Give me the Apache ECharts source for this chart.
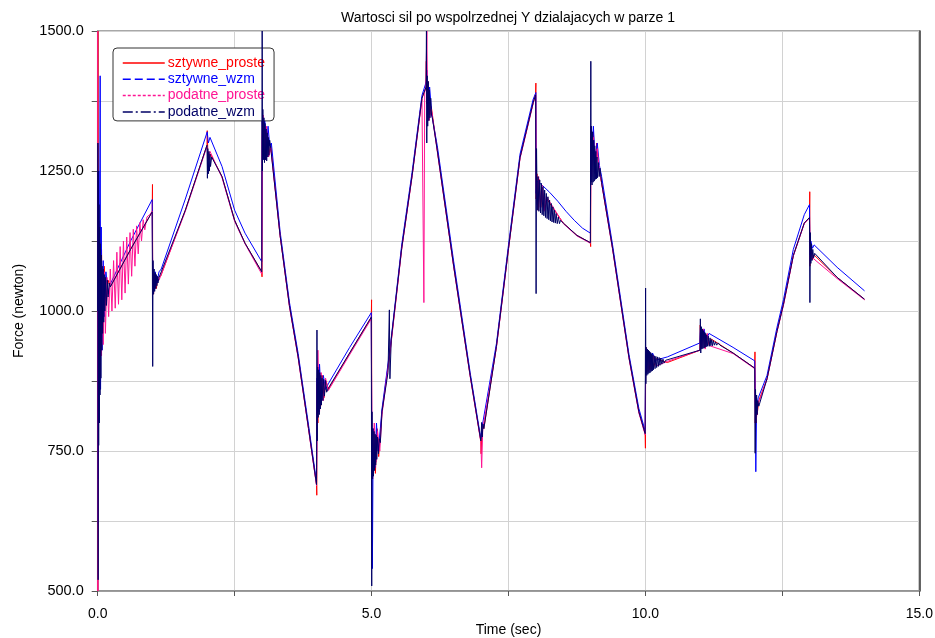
<!DOCTYPE html>
<html>
<head>
<meta charset="utf-8">
<script src="https://cdn.jsdelivr.net/npm/echarts@6/dist/echarts.min.js"></script>
<style>
  html, body { margin: 0; padding: 0; background: #fff; }
  #chart { width: 935px; height: 638px; }
</style>
</head>
<body>
<div id="chart"></div>
<script>
// [time (sec), force (newton)]
const sztywneProste = [
  [0.000, 500], [0.003, 1500], [0.008, 820], [0.015, 1230], [0.025, 880], [0.035, 1160], [0.05, 940], [0.07, 1110], [0.09, 980], [0.12, 1080], [0.15, 1010], [0.19, 1055], [0.23, 1043],
  [0.60, 1110], [0.995, 1177], [1.000, 1226], [1.004, 1055], [1.02, 1030], [1.04, 1065], [1.07, 1040], [1.10, 1060], [1.15, 1062],
  [1.60, 1180], [1.995, 1296], [2.000, 1322], [2.01, 1285], [2.03, 1270], [2.06, 1280],
  [2.27, 1240], [2.50, 1162], [2.69, 1121], [2.995, 1070], [3.000, 1061], [3.004, 1360], [3.02, 1280], [3.04, 1340], [3.07, 1270], [3.10, 1320], [3.13, 1280], [3.16, 1295],
  [3.33, 1135], [3.50, 1010], [3.66, 918], [3.85, 790], [3.995, 690], [4.000, 671], [4.004, 870], [4.02, 800], [4.04, 900], [4.07, 830], [4.10, 885], [4.13, 845], [4.17, 875], [4.21, 860],
  [4.60, 925], [4.995, 989], [5.000, 1020], [5.004, 760], [5.02, 700], [5.04, 785], [5.07, 710], [5.10, 790], [5.13, 740], [5.16, 780], [5.19, 820],
  [5.34, 930], [5.55, 1112], [5.74, 1242], [5.92, 1380], [5.995, 1400], [6.000, 1446], [6.01, 1370], [6.03, 1410], [6.06, 1350], [6.09, 1365],
  [6.20, 1287], [6.50, 1080], [6.80, 885], [6.995, 768], [7.000, 745], [7.02, 795], [7.05, 790],
  [7.28, 937], [7.50, 1112], [7.71, 1274], [7.95, 1372], [7.995, 1388], [8.000, 1407], [8.004, 1200], [8.02, 1245], [8.04, 1180], [8.06, 1235], [8.09, 1185], [8.12, 1220], [8.16, 1180], [8.20, 1200],
  [8.50, 1157], [8.75, 1135], [8.995, 1122], [9.000, 1115], [9.004, 1330], [9.02, 1260], [9.05, 1320], [9.08, 1250], [9.11, 1300], [9.15, 1255], [9.20, 1229],
  [9.40, 1112], [9.52, 1034], [9.70, 917], [9.88, 820], [9.995, 781], [10.000, 755], [10.004, 930], [10.02, 890], [10.05, 925], [10.08, 895], [10.11, 922], [10.15, 900], [10.20, 915], [10.40, 908],
  [10.995, 930], [11.000, 975], [11.02, 935], [11.05, 965], [11.08, 935], [11.12, 958], [11.16, 940], [11.20, 950],
  [11.60, 925], [11.995, 898], [12.000, 927], [12.004, 800], [12.02, 840], [12.04, 815], [12.07, 840],
  [12.22, 879], [12.40, 963], [12.52, 1012], [12.70, 1099], [12.90, 1157], [12.995, 1167], [13.000, 1213], [13.004, 1080], [13.02, 1110], [13.05, 1092], [13.08, 1100],
  [13.50, 1060], [14.00, 1021]
];

const sztywneWzm = [
  [0.000, 620], [0.006, 1180], [0.012, 700], [0.020, 1250], [0.030, 800], [0.045, 1420], [0.052, 860], [0.065, 1150], [0.08, 930], [0.10, 1090], [0.12, 990], [0.15, 1070], [0.19, 1030], [0.23, 1048],
  [0.60, 1125], [0.995, 1199], [1.004, 1070], [1.02, 1035], [1.05, 1070], [1.08, 1050], [1.12, 1070], [1.16, 1075],
  [1.60, 1200], [2.000, 1320], [2.02, 1300], [2.05, 1310],
  [2.27, 1258], [2.50, 1180], [2.69, 1139], [2.995, 1088], [3.004, 1340], [3.02, 1300], [3.05, 1345], [3.08, 1285], [3.11, 1330], [3.14, 1295], [3.17, 1300],
  [3.33, 1142], [3.50, 1016], [3.66, 924], [3.85, 796], [3.995, 695], [4.004, 880], [4.02, 820], [4.05, 905], [4.08, 845], [4.12, 885], [4.16, 860], [4.21, 870],
  [4.60, 935], [4.995, 997], [5.004, 780], [5.015, 540], [5.03, 790], [5.06, 720], [5.09, 800], [5.12, 750], [5.16, 790], [5.19, 825],
  [5.34, 935], [5.55, 1118], [5.74, 1248], [5.92, 1385], [6.000, 1410], [6.01, 1430], [6.03, 1380], [6.06, 1400], [6.10, 1350],
  [6.20, 1295], [6.50, 1088], [6.80, 890], [6.995, 772], [7.03, 800],
  [7.28, 942], [7.50, 1118], [7.71, 1280], [7.95, 1378], [8.000, 1390], [8.005, 1210], [8.02, 1232], [8.10, 1226], [8.25, 1212], [8.40, 1196],
  [8.55, 1178], [8.70, 1162], [8.85, 1148], [8.995, 1139], [9.004, 1310], [9.02, 1280], [9.05, 1330], [9.08, 1270], [9.12, 1300], [9.16, 1260], [9.20, 1240],
  [9.40, 1118], [9.52, 1040], [9.70, 922], [9.88, 826], [9.995, 786], [10.004, 920], [10.02, 900], [10.05, 930], [10.09, 905], [10.13, 925], [10.18, 912], [10.40, 918],
  [10.995, 943], [11.004, 970], [11.03, 945], [11.07, 968], [11.11, 948], [11.16, 960],
  [11.60, 935], [11.995, 911], [12.004, 860], [12.015, 713], [12.03, 830], [12.06, 845],
  [12.22, 885], [12.40, 970], [12.52, 1020], [12.70, 1110], [12.90, 1172], [12.995, 1190], [13.004, 1100], [13.02, 1125], [13.05, 1112], [13.08, 1118],
  [13.50, 1078], [14.00, 1036]
];

const podatneProste = [
  [0.000, 1500], [0.004, 500], [0.010, 1200], [0.018, 800], [0.028, 1150], [0.040, 880], [0.055, 1100], [0.070, 920], [0.085, 1080], [0.100, 940], [0.120, 1070], [0.14, 960],
  [0.17, 1060], [0.20, 990], [0.23, 1075], [0.26, 1000], [0.29, 1090], [0.32, 1005], [0.35, 1105], [0.38, 1012], [0.41, 1115], [0.44, 1020], [0.47, 1125], [0.50, 1032],
  [0.53, 1132], [0.56, 1048], [0.59, 1140], [0.62, 1062], [0.65, 1146], [0.68, 1080], [0.71, 1152], [0.74, 1102], [0.77, 1158], [0.80, 1125], [0.83, 1163], [0.86, 1145],
  [0.90, 1168], [0.95, 1172], [0.995, 1178],
  [1.004, 1050], [1.02, 1065], [1.05, 1040], [1.08, 1060], [1.12, 1055],
  [1.60, 1178], [1.995, 1294], [2.02, 1270], [2.05, 1285],
  [2.27, 1238], [2.50, 1160], [2.69, 1120], [2.995, 1066], [3.004, 1310], [3.02, 1350], [3.05, 1280], [3.08, 1330], [3.12, 1275], [3.16, 1290],
  [3.33, 1134], [3.50, 1008], [3.66, 916], [3.85, 788], [3.995, 688], [4.004, 860], [4.02, 930], [4.05, 820], [4.08, 890], [4.12, 840], [4.16, 880], [4.21, 858],
  [4.60, 922], [4.995, 986], [5.004, 770], [5.02, 740], [5.05, 800], [5.08, 730], [5.11, 785], [5.15, 750], [5.19, 815],
  [5.34, 928], [5.55, 1110], [5.74, 1240], [5.92, 1378], [5.955, 1015], [5.97, 1390], [5.99, 1400], [6.01, 1500], [6.02, 1395], [6.05, 1340], [6.09, 1360],
  [6.20, 1285], [6.50, 1078], [6.80, 883], [6.995, 766], [7.01, 720], [7.03, 790],
  [7.28, 935], [7.50, 1110], [7.71, 1272], [7.95, 1370], [7.995, 1386], [8.005, 1220], [8.02, 1190], [8.05, 1240], [8.08, 1185], [8.11, 1225], [8.15, 1178], [8.19, 1205],
  [8.50, 1156], [8.75, 1134], [8.995, 1121], [9.004, 1300], [9.02, 1240], [9.05, 1310], [9.08, 1245], [9.12, 1290], [9.16, 1250], [9.20, 1228],
  [9.40, 1110], [9.52, 1032], [9.70, 915], [9.88, 818], [9.995, 779], [10.004, 905], [10.02, 935], [10.05, 892], [10.08, 926], [10.11, 896], [10.15, 920], [10.20, 902], [10.40, 910],
  [10.995, 930], [11.004, 955], [11.03, 935], [11.06, 968], [11.09, 932], [11.13, 960], [11.17, 938],
  [11.60, 924], [11.995, 897], [12.004, 840], [12.02, 800], [12.05, 835], [12.08, 840],
  [12.22, 878], [12.40, 962], [12.52, 1010], [12.70, 1098], [12.90, 1156], [12.995, 1166], [13.004, 1090], [13.02, 1105], [13.05, 1095],
  [13.50, 1058], [14.00, 1020]
];

const podatneWzm = [
  [0.000, 1000], [0.004, 1300], [0.008, 520], [0.012, 1250], [0.018, 760], [0.024, 1190], [0.030, 800], [0.036, 1150], [0.042, 850], [0.050, 1120], [0.058, 880], [0.066, 1100],
  [0.074, 930], [0.082, 1080], [0.090, 960], [0.100, 1075], [0.110, 980], [0.120, 1065], [0.130, 1000], [0.145, 1060], [0.160, 1010], [0.175, 1055], [0.19, 1025], [0.21, 1050], [0.23, 1043],
  [0.60, 1110], [0.995, 1177], [1.004, 901], [1.010, 1090], [1.02, 1030], [1.03, 1075], [1.04, 1035], [1.05, 1068], [1.06, 1040], [1.07, 1065], [1.08, 1045], [1.09, 1062], [1.10, 1050], [1.12, 1060], [1.15, 1062],
  [1.60, 1180], [1.995, 1296], [2.003, 1237], [2.01, 1290], [2.02, 1245], [2.03, 1285], [2.04, 1250], [2.05, 1280], [2.06, 1258], [2.08, 1275],
  [2.27, 1240], [2.50, 1162], [2.69, 1121], [2.995, 1070], [3.003, 1500], [3.008, 1250], [3.015, 1360], [3.025, 1270], [3.035, 1345], [3.045, 1265], [3.055, 1335], [3.065, 1270],
  [3.075, 1325], [3.085, 1268], [3.095, 1318], [3.105, 1275], [3.115, 1310], [3.125, 1278], [3.14, 1305], [3.16, 1290],
  [3.33, 1135], [3.50, 1010], [3.66, 918], [3.85, 790], [3.995, 690], [4.003, 966], [4.008, 768], [4.015, 900], [4.025, 810], [4.035, 895], [4.045, 815], [4.055, 890], [4.065, 825],
  [4.075, 885], [4.085, 832], [4.095, 880], [4.11, 840], [4.125, 878], [4.14, 848], [4.16, 876], [4.18, 855], [4.21, 862],
  [4.60, 925], [4.995, 989], [5.003, 509], [5.008, 820], [5.015, 700], [5.025, 790], [5.035, 705], [5.045, 785], [5.055, 715], [5.065, 780], [5.075, 725], [5.085, 778], [5.095, 735],
  [5.11, 775], [5.125, 745], [5.14, 772], [5.16, 765], [5.19, 820], [5.30, 890], [5.325, 1002], [5.335, 879], [5.36, 950],
  [5.55, 1112], [5.74, 1242], [5.92, 1380], [5.995, 1400], [6.002, 1500], [6.008, 1300], [6.015, 1420], [6.025, 1330], [6.035, 1410], [6.045, 1340], [6.055, 1395], [6.065, 1345],
  [6.08, 1380], [6.095, 1350], [6.11, 1345],
  [6.20, 1287], [6.50, 1080], [6.80, 885], [6.995, 768], [7.01, 801], [7.02, 775], [7.035, 798], [7.05, 790],
  [7.28, 937], [7.50, 1112], [7.71, 1274], [7.95, 1372], [7.995, 1386], [8.004, 1031], [8.012, 1290], [8.025, 1180],
  [8.04, 1240], [8.055, 1178], [8.07, 1234], [8.085, 1175], [8.10, 1228], [8.115, 1172], [8.13, 1222], [8.145, 1170], [8.16, 1216], [8.175, 1167], [8.19, 1210], [8.205, 1165],
  [8.22, 1204], [8.235, 1163], [8.25, 1198], [8.265, 1161], [8.28, 1192], [8.295, 1159], [8.31, 1186], [8.325, 1158], [8.34, 1180], [8.355, 1157], [8.37, 1174], [8.39, 1156],
  [8.41, 1168], [8.43, 1156], [8.45, 1162], [8.50, 1157], [8.75, 1135], [8.995, 1122],
  [9.003, 1446], [9.008, 1230], [9.015, 1330], [9.025, 1225], [9.035, 1320], [9.045, 1230], [9.055, 1305], [9.065, 1232], [9.075, 1295], [9.085, 1235], [9.095, 1285], [9.105, 1236],
  [9.115, 1275], [9.125, 1238], [9.14, 1265], [9.155, 1240], [9.17, 1255], [9.20, 1229],
  [9.40, 1112], [9.52, 1034], [9.70, 917], [9.88, 820], [9.995, 781], [10.003, 1041], [10.008, 870], [10.015, 935], [10.025, 885], [10.035, 932], [10.045, 887],
  [10.055, 930], [10.065, 889], [10.075, 928], [10.085, 890], [10.095, 926], [10.105, 892], [10.115, 924], [10.125, 893], [10.135, 922], [10.145, 895], [10.16, 920], [10.175, 897],
  [10.19, 919], [10.205, 899], [10.22, 918], [10.235, 901], [10.25, 917], [10.265, 903], [10.28, 916], [10.30, 905], [10.32, 914], [10.34, 907], [10.37, 912],
  [10.40, 912], [10.995, 930], [11.003, 986], [11.01, 925],
  [11.02, 972], [11.03, 932], [11.04, 968], [11.05, 933], [11.06, 965], [11.07, 934], [11.08, 962], [11.09, 935], [11.10, 960], [11.11, 936], [11.12, 957], [11.135, 937],
  [11.15, 955], [11.165, 937], [11.18, 952], [11.195, 938], [11.21, 949], [11.225, 938], [11.24, 947], [11.26, 939], [11.28, 945], [11.30, 939], [11.33, 943], [11.36, 939],
  [11.60, 925], [11.995, 898], [12.003, 746], [12.01, 860], [12.02, 800], [12.03, 850], [12.04, 815], [12.05, 840], [12.07, 830],
  [12.22, 879], [12.40, 963], [12.52, 1012], [12.70, 1099], [12.90, 1157], [12.995, 1167], [13.003, 1015], [13.01, 1140], [13.02, 1085], [13.03, 1120], [13.04, 1090],
  [13.055, 1110], [13.07, 1095], [13.09, 1103],
  [13.50, 1060], [14.00, 1021]
];

const seriesNames = ['sztywne_proste', 'sztywne_wzm', 'podatne_proste', 'podatne_wzm'];
const seriesColors = ['#ff0000', '#0000ff', '#ff1493', '#000066'];
const xTicks = [0, 5, 10, 15];
const yTicks = [500, 750, 1000, 1250, 1500];

const font = 'Liberation Sans, Arial, sans-serif';
// dash patterns only show in the legend; the plotted curves are dense enough to look solid
const legendLineTypes = ['solid', [8, 4], [3, 2], [10, 3, 2, 3]];
const allData = [sztywneProste, sztywneWzm, podatneProste, podatneWzm];

const chart = echarts.init(document.getElementById('chart'));
chart.setOption({
  animation: false,
  backgroundColor: '#fff',
  textStyle: { fontFamily: font },
  title: {
    text: 'Wartosci sil po wspolrzednej Y dzialajacych w parze 1',
    left: 503,
    top: 6,
    textAlign: 'center',
    textStyle: { fontSize: 14, fontWeight: 'normal', color: '#000', fontFamily: font }
  },
  legend: {
    orient: 'vertical',
    left: 113,
    top: 48,
    padding: [8, 9, 2, 9],
    itemWidth: 42,
    itemHeight: 12,
    itemGap: 2.3,
    backgroundColor: '#fff',
    borderColor: '#333',
    borderWidth: 1,
    borderRadius: 4,
    itemStyle: { opacity: 0 },
    data: seriesNames.map((n, i) => ({
      name: n,
      textStyle: { color: seriesColors[i] },
      lineStyle: { color: seriesColors[i], width: 1.5, type: legendLineTypes[i], opacity: 1 }
    })),
    textStyle: { fontSize: 14, fontFamily: font, lineHeight: 14, padding: [0, 0, 0, -2] }
  },
  grid: {
    left: 97.7,
    right: 15.7,
    top: 31,
    bottom: 47,
    show: true,
    containLabel: false,
    outerBoundsMode: 'none',
    borderColor: '#8c8c8c',
    borderWidth: 1.5
  },
  xAxis: {
    type: 'value',
    min: 0,
    max: 15,
    interval: 2.5,
    name: 'Time (sec)',
    nameLocation: 'middle',
    nameGap: 32,
    nameMoveOverlap: false,
    nameTextStyle: { fontSize: 14, color: '#000', fontFamily: font },
    axisLine: { lineStyle: { color: '#8c8c8c', width: 1.5 } },
    axisTick: { length: 5, lineStyle: { color: '#555' } },
    axisLabel: {
      fontSize: 14, color: '#000', margin: 16,
      formatter: v => xTicks.includes(v) ? v.toFixed(1) : ''
    },
    splitLine: { lineStyle: { color: '#d2d2d2', width: 1 } }
  },
  yAxis: [{
    type: 'value',
    min: 500,
    max: 1500,
    interval: 125,
    name: 'Force (newton)',
    nameLocation: 'middle',
    nameGap: 72,
    nameMoveOverlap: false,
    nameTextStyle: { fontSize: 14, color: '#000', fontFamily: font },
    axisLine: { show: true, lineStyle: { color: '#8c8c8c', width: 1.5 } },
    axisTick: { show: true, length: 6, lineStyle: { color: '#555' } },
    axisLabel: {
      fontSize: 14.5, color: '#000', margin: 14,
      formatter: v => yTicks.includes(v) ? v.toFixed(1) : ''
    },
    splitLine: { lineStyle: { color: '#d2d2d2', width: 1 } }
  }, {
    type: 'value',
    position: 'right',
    min: 500,
    max: 1500,
    interval: 125,
    axisLine: { show: true, lineStyle: { color: '#333', width: 1.5 } },
    axisTick: { show: false },
    axisLabel: { show: false },
    splitLine: { show: false }
  }],
  series: seriesNames.map((n, i) => ({
    name: n,
    type: 'line',
    data: allData[i],
    symbol: 'none',
    color: seriesColors[i],
    lineStyle: { width: 1, color: seriesColors[i], type: 'solid' },
    z: 2 + i
  }))
});
</script>
</body>
</html>
